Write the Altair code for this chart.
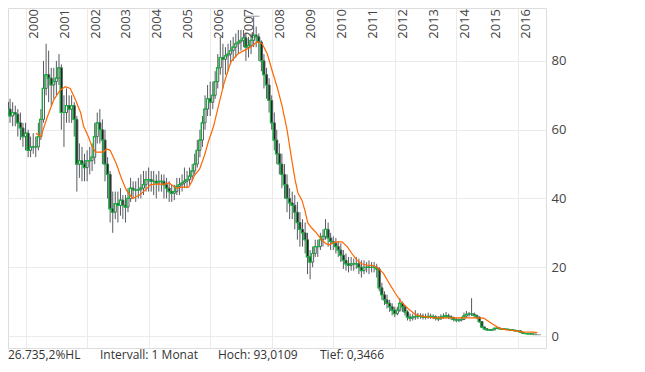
import altair as alt
import pandas as pd

# ---------------- data (monthly candles, Jun 1999 - Aug 2016) ----------------
first_month = "1999-06-01"
n_months = 207

open_ = [
    68, 66, 64, 65, 64.5, 62, 60.5,                                  # 1999
    58, 59, 54, 55, 55, 55, 58, 63, 72, 76, 75, 73,                  # 2000
    74, 75, 78, 65, 65, 67, 66, 67, 63, 50, 51, 50,                  # 2001
    49, 51, 51, 52, 58, 62, 60, 57, 50, 47, 37, 36,                  # 2002
    38.5, 38, 39.5, 38, 37.5, 40, 43, 42.5, 42.5, 42.5, 43, 44,      # 2003
    45.5, 45.5, 45, 45, 44.5, 45, 45, 44, 43, 42, 41.5, 42,          # 2004
    43.5, 44, 44.5, 45, 45.5, 46.5, 48, 50, 54, 57, 62, 66,          # 2005
    69, 68, 70, 74, 78, 81, 80.5, 81.5, 82, 83, 84, 85,              # 2006
    85.5, 86, 86.7, 84, 84.5, 86, 87.5, 87, 85.5, 80, 76, 73,        # 2007
    68.5, 62, 57, 53, 50, 47, 44, 40, 38.7, 38, 36, 33,              # 2008
    31, 30, 28, 23, 21.5, 24, 26, 26, 28, 29, 31, 28.5,              # 2009
    27.5, 27, 26, 25, 23.5, 22, 21, 20.5, 21, 21, 21, 20,            # 2010
    19, 20, 20, 20, 20, 20, 19.5, 14, 12, 10.5, 9.5, 8.5,            # 2011
    7.5, 6.5, 7.5, 9.5, 8.5, 7, 5.5, 5.2, 5.5, 5.6, 5.8, 5.8,        # 2012
    5.5, 5.5, 5.7, 5.7, 5.6, 5.2, 5.0, 5.5, 5.7, 5.9, 5.6, 5.3,      # 2013
    4.8, 4.6, 4.6, 4.8, 5.8, 6.3, 6.4, 6.4, 6, 5.5, 4.2, 2.6,        # 2014
    2.1, 1.8, 1.7, 1.8, 2.2, 2.3, 2.1, 2, 2, 1.9, 1.8, 1.7,          # 2015
    1.5, 1.5, 1.1, 0.8, 0.7, 0.6, 0.6, 0.5,                          # 2016
]
close = [
    66, 64, 65, 64.5, 62, 60.5, 58,
    59, 54, 55, 55, 55, 58, 63, 72, 76, 75, 73, 74,
    75, 78, 65, 65, 67, 66, 67, 63, 50, 51, 50, 49,
    51, 51, 52, 58, 62, 60, 57, 50, 47, 37, 36, 38.5,
    38, 39.5, 38, 37.5, 40, 43, 42.5, 42.5, 42.5, 43, 44, 45.5,
    45.5, 45, 45, 44.5, 45, 45, 44, 43, 42, 41.5, 42, 43.5,
    44, 44.5, 45, 45.5, 46.5, 48, 50, 54, 57, 62, 66, 69,
    68, 70, 74, 78, 81, 80.5, 81.5, 82, 83, 84, 85, 85.5,
    86, 86.7, 84, 84.5, 86, 87.5, 87, 85.5, 80, 76, 73, 68.5,
    62, 57, 53, 50, 47, 44, 40, 38.7, 38, 36, 33, 31,
    30, 28, 23, 21.5, 24, 26, 26, 28, 29, 31, 28.5, 27.5,
    27, 26, 25, 23.5, 22, 21, 20.5, 21, 21, 21, 20, 19,
    20, 20, 20, 20, 20, 19.5, 14, 12, 10.5, 9.5, 8.5, 7.5,
    6.5, 7.5, 9.5, 8.5, 7, 5.5, 5.2, 5.5, 5.6, 5.8, 5.8, 5.5,
    5.5, 5.7, 5.7, 5.6, 5.2, 5.0, 5.5, 5.7, 5.9, 5.6, 5.3, 4.8,
    4.6, 4.6, 4.8, 5.8, 6.3, 6.4, 6.4, 6, 5.5, 4.2, 2.6, 2.1,
    1.8, 1.7, 1.8, 2.2, 2.3, 2.1, 2, 2, 1.9, 1.8, 1.7, 1.5,
    1.5, 1.1, 0.8, 0.7, 0.6, 0.6, 0.5, 0.45,
]
high = [
    72, 69, 68, 67, 66, 65, 62,
    62, 60, 58, 59, 58, 62, 66, 80, 85, 83, 78, 78,
    80, 82, 79, 70, 72, 70, 70, 68, 64, 56, 55, 53,
    54, 55, 56, 62, 65, 66, 63, 60, 52, 48, 42, 42,
    42, 43, 41, 41, 43, 46, 45, 45, 46, 47, 48, 48,
    49, 48, 48, 47, 48, 47, 47, 46, 45, 44, 44, 46,
    46, 47, 49, 48, 49, 50, 53, 57, 60, 64, 70, 73,
    74, 74, 77, 82, 87, 85, 84, 85, 86, 87, 88, 89,
    89, 89, 88, 87, 88, 93.0109, 90, 88, 86, 82, 78, 75,
    70, 65, 60, 56, 53, 50, 47, 43, 42, 41, 39, 36,
    34, 33, 30, 25, 26, 28, 28, 30, 31, 34, 33, 30,
    29, 28.5, 27.5, 27, 25, 24, 23, 23, 22.5, 23, 22.5, 22,
    22, 21.5, 22, 21.5, 21.5, 21, 20, 15.5, 13, 12, 10.5, 9.5,
    8.5, 8.5, 11, 10, 9, 7.5, 6.5, 6.5, 7.5, 6.7, 6.6, 6.5,
    6.5, 6.8, 6.5, 6.3, 6.0, 5.8, 6.3, 6.6, 7.0, 6.5, 6.0, 5.6,
    5.3, 5.2, 5.6, 6.8, 7.3, 7.0, 11, 6.8, 6.2, 5.7, 4.3, 2.8,
    2.3, 2.0, 2.1, 2.5, 2.6, 2.5, 2.3, 2.2, 2.1, 2.0, 1.9, 1.8,
    1.7, 1.6, 1.2, 0.9, 0.8, 0.7, 0.7, 0.6,
]
low = [
    63, 62, 61, 61, 58, 57, 55,
    54, 52, 52, 53, 52, 54, 57, 62, 70, 68, 67, 69,
    70, 73, 60, 55, 62, 62, 62, 58, 42, 46, 45, 45,
    45, 47, 48, 50, 56, 56, 50, 45, 40, 33, 30, 34,
    33, 35, 34, 33, 36, 39, 40, 39, 40, 40, 41, 42,
    42, 42, 41, 40, 42, 42, 40, 40, 39, 39, 39.5, 41,
    41, 42, 43, 43, 44, 45, 47, 49, 52, 55, 60, 64,
    64, 66, 69, 72, 76, 72, 76, 77, 79, 80, 81, 82,
    83, 84, 80, 81, 82, 84, 84, 80, 77, 72, 69, 65,
    60, 54, 50, 47, 43, 40, 36, 34, 34, 31, 28, 26,
    26, 24, 18, 16.5, 20, 23, 23, 25, 26, 28, 26, 25,
    25, 24, 23, 21.5, 19.5, 19, 18.5, 19, 19, 19.5, 18, 17,
    18, 18.5, 18, 18.5, 18.5, 17, 13, 10.5, 9, 8, 7, 6,
    5.5, 6, 7, 7, 6, 4.5, 4.2, 4.5, 4.7, 4.9, 5, 4.8,
    4.8, 5.0, 5.0, 4.9, 4.5, 4.3, 4.7, 5.0, 5.1, 4.9, 4.6, 4.2,
    4.0, 4.0, 4.2, 4.6, 5.3, 5.6, 5.8, 5.3, 4.9, 3.8, 2.3, 1.7,
    1.5, 1.5, 1.6, 1.7, 2.0, 1.9, 1.8, 1.8, 1.7, 1.6, 1.5, 1.3,
    1.2, 1.0, 0.7, 0.6, 0.5, 0.45, 0.4, 0.3466,
]

# orange moving-average line
ma_dates = [
    "2000-05-01", "2000-07-01", "2000-09-15", "2000-12-01", "2001-02-15", "2001-04-15",
    "2001-06-15", "2001-08-15", "2001-10-15", "2001-11-20", "2002-01-15", "2002-02-20",
    "2002-04-10", "2002-07-10", "2002-08-20", "2002-10-01", "2002-12-15", "2003-02-10",
    "2003-04-10", "2003-06-25", "2003-09-15", "2003-11-25", "2004-01-20", "2004-03-20",
    "2004-07-15", "2004-09-01", "2004-10-30", "2004-12-05", "2005-02-01", "2005-04-20",
    "2005-05-25", "2005-07-01", "2005-08-28", "2005-10-25", "2005-12-10", "2006-02-10",
    "2006-04-10", "2006-06-15", "2006-09-05", "2006-11-25", "2007-02-05", "2007-04-25",
    "2007-07-15", "2007-09-10", "2007-11-10", "2008-01-08", "2008-03-05", "2008-05-05",
    "2008-07-01", "2008-08-28", "2008-10-05", "2008-11-08", "2008-12-25", "2009-01-28",
    "2009-03-05", "2009-04-20", "2009-06-15", "2009-08-15", "2009-10-10", "2009-11-15",
    "2009-12-20", "2010-02-15", "2010-04-15", "2010-06-15", "2010-08-10", "2010-10-10",
    "2010-12-05", "2011-02-01", "2011-04-20", "2011-06-20", "2011-08-20", "2011-10-15",
    "2012-01-05", "2012-03-15", "2012-06-05", "2012-08-25", "2012-11-05", "2013-04-15",
    "2013-12-05", "2014-07-25", "2014-11-20", "2015-01-20", "2015-03-20", "2015-05-25",
    "2015-08-15", "2015-12-10", "2016-02-28", "2016-06-25", "2016-08-20",
]
ma_values = [
    59, 58, 63.7, 68.7, 71.5, 72.5,
    72, 68.7, 65, 61, 58, 55.6,
    53.5, 53.5, 54.4, 54, 50, 46,
    42.5, 40, 41, 42.5, 44, 44.2,
    44.2, 44.5, 43.4, 43, 43.3, 43.3,
    44.8, 46.8, 48.5, 52.5, 56.5, 61,
    67, 73.6, 79.8, 82, 83, 84,
    85.6, 85, 82, 77, 72.5, 66.7,
    60, 51, 45.4, 41.6, 39.5, 36.6,
    32.9, 31.4, 30, 28, 26.8, 26.5,
    27, 27.4, 27.4, 26, 24, 22,
    21, 20.6, 20.5, 19.7, 18.2, 15.8,
    12.5, 10, 8, 6.4, 5.8, 5.3,
    5.3, 5.3, 5.2, 4.2, 3.3, 2.3,
    1.8, 1.5, 1.2, 1.1, 1.0,
]

year_labels = [str(y) for y in range(2000, 2017)]
y_ticks = [0, 20, 40, 60, 80]
info_texts = ["26.735,2%HL", "Intervall: 1 Monat", "Hoch: 93,0109", "Tief: 0,3466"]
extreme_marks = [
    {"start": "2007-02-08", "end": "2007-08-09", "value": 93.0109},
    {"start": "2016-06-25", "end": "2016-10-02", "value": 0.3466},
]

# ---------------- build tables ----------------
months = pd.date_range(first_month, periods=n_months, freq="MS").strftime("%Y-%m-%d").tolist()
candles = pd.DataFrame({"date": months, "open": open_, "high": high, "low": low, "close": close})
ma = pd.DataFrame({"date": ma_dates, "ma": ma_values})
years = pd.DataFrame({"date": [f"{y}-01-01" for y in year_labels], "label": year_labels})
marks_df = pd.DataFrame(extreme_marks)

FONT = "Open Sans"
GRID = "#ebebeb"
W, H = 538, 340

xscale = alt.Scale(type="utc", domain=["1999-08-05", "2016-10-02"])
yscale = alt.Scale(domain=[-3.49, 95.4], nice=False, zero=False)

xaxis = alt.Axis(
    values=[alt.DateTime(year=int(y), month=1, date=1, utc=True) for y in year_labels],
    labels=False, ticks=False, domain=False, grid=True, gridColor=GRID, title=None,
)
yaxis = alt.Axis(
    orient="right", values=y_ticks, labels=True, ticks=False, domain=False, grid=True,
    gridColor=GRID, title=None, labelFont=FONT, labelFontSize=13, labelColor="#444444",
    labelPadding=5,
)

base = alt.Chart(candles)

grid_layer = base.mark_rule(opacity=0).encode(
    x=alt.X("date:T", scale=xscale, axis=xaxis),
    y=alt.Y("low:Q", scale=yscale, axis=yaxis),
)

wicks = base.mark_rule(color="#555b60", strokeWidth=1, clip=True).encode(
    x=alt.X("date:T", scale=xscale),
    y=alt.Y("low:Q", scale=yscale),
    y2="high:Q",
)

bodies = base.mark_bar(size=2, stroke="#555b60", strokeWidth=1, clip=True).encode(
    x=alt.X("date:T", scale=xscale),
    y=alt.Y("open:Q", scale=yscale),
    y2="close:Q",
    fill=alt.condition("datum.close >= datum.open", alt.value("#ffffff"), alt.value("#1a1a1a")),
)

green = base.mark_line(color="#14b43c", strokeWidth=1.2, interpolate="step", clip=True).encode(
    x=alt.X("date:T", scale=xscale),
    y=alt.Y("close:Q", scale=yscale),
)

orange = alt.Chart(ma).mark_line(color="#ff6600", strokeWidth=1.2, clip=True).encode(
    x=alt.X("date:T", scale=xscale),
    y=alt.Y("ma:Q", scale=yscale),
)

extremes = alt.Chart(marks_df).mark_rule(color="#999999", strokeWidth=1, clip=True).encode(
    x=alt.X("start:T", scale=xscale),
    x2="end:T",
    y=alt.Y("value:Q", scale=yscale),
)

year_text = alt.Chart(years).mark_text(
    angle=270, align="right", baseline="alphabetic", dy=12.5,
    font=FONT, fontSize=13, color="#444444",
).encode(
    x=alt.X("date:T", scale=xscale),
    y=alt.value(1),
    text="label:N",
)

info_x = [0, 92, 210, 312]
info_layers = [
    alt.Chart(alt.Data(values=[{}])).mark_text(
        text=t, align="left", baseline="alphabetic", font=FONT, fontSize=12, color="#333333",
    ).encode(x=alt.value(px), y=alt.value(351))
    for t, px in zip(info_texts, info_x)
]

chart = alt.layer(
    grid_layer, wicks, bodies, green, orange, extremes, year_text, *info_layers
).properties(
    width=W, height=H,
    autosize=alt.AutoSizeParams(type="none"),
    padding={"left": 0, "top": 0, "right": 91, "bottom": 16},
).configure_view(
    stroke=GRID, strokeWidth=1,
).configure(background="white")

chart.save("out.html", embed_options={"renderer": "svg", "actions": False})
